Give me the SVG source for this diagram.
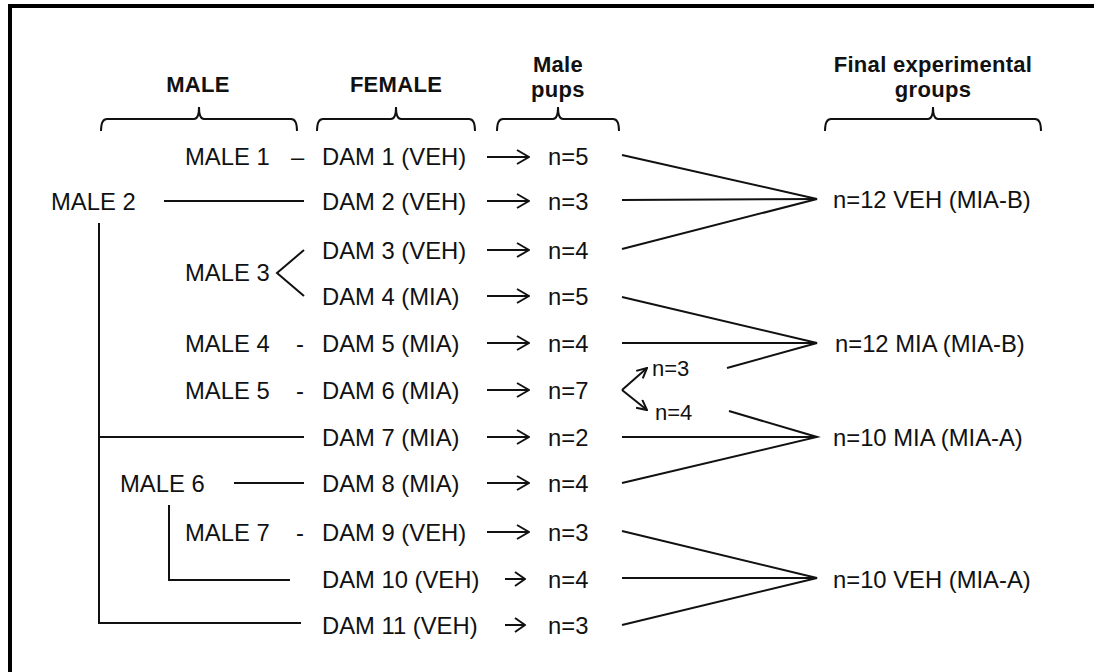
<svg xmlns="http://www.w3.org/2000/svg" width="1094" height="672" viewBox="0 0 1094 672">
<style>
text{font-family:"Liberation Sans",Arial,sans-serif;font-size:23.8px;fill:#111}
.h{font-weight:bold;font-size:22px;text-anchor:middle;letter-spacing:0.3px}
.s{font-size:22px}
.ln{stroke:#111;stroke-width:2;fill:none}
.ar{stroke:#111;stroke-width:2;fill:none;marker-end:url(#ah)}
.ar3{stroke:#111;stroke-width:2;fill:none;marker-end:url(#ah3)}
.ar2{stroke:#111;stroke-width:2;fill:none;marker-end:url(#ah2)}
</style>
<defs>
<marker id="ah" viewBox="0 0 14 16" refX="13" refY="8" markerWidth="14" markerHeight="16" markerUnits="userSpaceOnUse" orient="auto">
<path d="M1,1 L13,8 L1,15" fill="none" stroke="#111" stroke-width="2"/>
</marker>
<marker id="ah3" viewBox="0 0 12 16" refX="11" refY="8" markerWidth="12" markerHeight="16" markerUnits="userSpaceOnUse" orient="auto">
<path d="M1,1 L11,8 L1,15" fill="none" stroke="#111" stroke-width="2"/>
</marker>
<marker id="ah2" viewBox="0 0 12 12" refX="11" refY="6" markerWidth="12" markerHeight="12" markerUnits="userSpaceOnUse" orient="auto">
<path d="M1,1 L11,6 L1,11" fill="none" stroke="#111" stroke-width="2"/>
</marker>
</defs>
<rect width="1094" height="672" fill="#fff"/>
<path d="M10,672 V6 H1094" fill="none" stroke="#000" stroke-width="4"/>

<g id="headers">
<text class="h" x="198" y="92">MALE</text>
<text class="h" x="396" y="92">FEMALE</text>
<text class="h" x="558" y="72">Male</text>
<text class="h" x="558" y="97">pups</text>
<text class="h" x="933" y="72">Final experimental</text>
<text class="h" x="933" y="97">groups</text>
<path class="ln" d="M101,131 Q101,119 107,119 H194 Q199,119 199,107 Q199,119 204,119 H291 Q297,119 297,131"/>
<path class="ln" d="M317,131 Q317,119 323,119 H391 Q396,119 396,107 Q396,119 401,119 H469 Q475,119 475,131"/>
<path class="ln" d="M497,131 Q497,119 503,119 H553 Q558,119 558,107 Q558,119 563,119 H613 Q619,119 619,131"/>
<path class="ln" d="M825,131 Q825,119 831,119 H928 Q933,119 933,107 Q933,119 938,119 H1035 Q1041,119 1041,131"/>
</g>

<g id="males">
<g id="male1"><text x="185" y="164.5">MALE 1</text><text x="291" y="164.5">–</text></g>
<g id="male2"><text x="51" y="209.5">MALE 2</text></g>
<g id="male3"><text x="185" y="280.5">MALE 3</text></g>
<g id="male4"><text x="185" y="351.5">MALE 4</text><text x="296" y="351.5">-</text></g>
<g id="male5"><text x="185" y="398.5">MALE 5</text><text x="296" y="398.5">-</text></g>
<g id="male6"><text x="120" y="491.5">MALE 6</text></g>
<g id="male7"><text x="185" y="540.5">MALE 7</text><text x="296" y="540.5">-</text></g>
</g>

<g id="dams">
<g id="dam1"><text x="322" y="164.5">DAM 1 (VEH)</text></g>
<g id="dam2"><text x="322" y="209.5">DAM 2 (VEH)</text></g>
<g id="dam3"><text x="322" y="258.5">DAM 3 (VEH)</text></g>
<g id="dam4"><text x="322" y="304.5">DAM 4 (MIA)</text></g>
<g id="dam5"><text x="322" y="351.5">DAM 5 (MIA)</text></g>
<g id="dam6"><text x="322" y="398.5">DAM 6 (MIA)</text></g>
<g id="dam7"><text x="322" y="445.5">DAM 7 (MIA)</text></g>
<g id="dam8"><text x="322" y="491.5">DAM 8 (MIA)</text></g>
<g id="dam9"><text x="322" y="540.5">DAM 9 (VEH)</text></g>
<g id="dam10"><text x="322" y="587.5">DAM 10 (VEH)</text></g>
<g id="dam11"><text x="322" y="633.5">DAM 11 (VEH)</text></g>
</g>

<g id="pups">
<g id="pup1"><text x="548" y="164.5">n=5</text></g>
<g id="pup2"><text x="548" y="209.5">n=3</text></g>
<g id="pup3"><text x="548" y="258.5">n=4</text></g>
<g id="pup4"><text x="548" y="304.5">n=5</text></g>
<g id="pup5"><text x="548" y="351.5">n=4</text></g>
<g id="pup6"><text x="548" y="398.5">n=7</text></g>
<g id="pup6a"><text class="s" x="652" y="376">n=3</text></g>
<g id="pup6b"><text class="s" x="655" y="420">n=4</text></g>
<g id="pup7"><text x="548" y="445.5">n=2</text></g>
<g id="pup8"><text x="548" y="491.5">n=4</text></g>
<g id="pup9"><text x="548" y="540.5">n=3</text></g>
<g id="pup10"><text x="548" y="587.5">n=4</text></g>
<g id="pup11"><text x="548" y="633.5">n=3</text></g>
</g>

<g id="groups">
<g id="g1"><text x="833" y="207.5">n=12 VEH (MIA-B)</text></g>
<g id="g2"><text x="835" y="351.5">n=12 MIA (MIA-B)</text></g>
<g id="g3"><text x="833" y="445.5">n=10 MIA (MIA-A)</text></g>
<g id="g4"><text x="833" y="587.5">n=10 VEH (MIA-A)</text></g>
</g>

<g id="connectors">
<line class="ln" x1="164" y1="201" x2="304" y2="201"/>
<polyline class="ln" points="99,223 99,623 301,623"/>
<polyline class="ln" points="304,250 277,273 304,296"/>
<line class="ln" x1="99" y1="437" x2="304" y2="437"/>
<line class="ln" x1="234" y1="483" x2="304" y2="483"/>
<polyline class="ln" points="169,505 169,580 290,580"/>

<line class="ar" x1="487" y1="157" x2="529" y2="157"/>
<line class="ar" x1="487" y1="201" x2="529" y2="201"/>
<line class="ar" x1="487" y1="250" x2="529" y2="250"/>
<line class="ar" x1="487" y1="296" x2="529" y2="296"/>
<line class="ar" x1="487" y1="343" x2="529" y2="343"/>
<line class="ar" x1="487" y1="390" x2="529" y2="390"/>
<line class="ar" x1="487" y1="437" x2="529" y2="437"/>
<line class="ar" x1="487" y1="483" x2="529" y2="483"/>
<line class="ar" x1="487" y1="532" x2="529" y2="532"/>
<line class="ar3" x1="505" y1="579" x2="525" y2="579"/>
<line class="ar3" x1="505" y1="625" x2="525" y2="625"/>

<line class="ar2" x1="622" y1="390" x2="647" y2="368"/>
<line class="ar2" x1="622" y1="390" x2="647" y2="410"/>

<polyline class="ln" points="622,155 817,199 622,249"/>
<line class="ln" x1="622" y1="200" x2="817" y2="199"/>
<polyline class="ln" points="622,297 817,343 727,368"/>
<line class="ln" x1="622" y1="343" x2="817" y2="343"/>
<polyline class="ln" points="729,411 817,437 622,483"/>
<line class="ln" x1="622" y1="437" x2="817" y2="437"/>
<polyline class="ln" points="622,531 817,578 622,625"/>
<line class="ln" x1="622" y1="578" x2="817" y2="578"/>
</g>
</svg>
